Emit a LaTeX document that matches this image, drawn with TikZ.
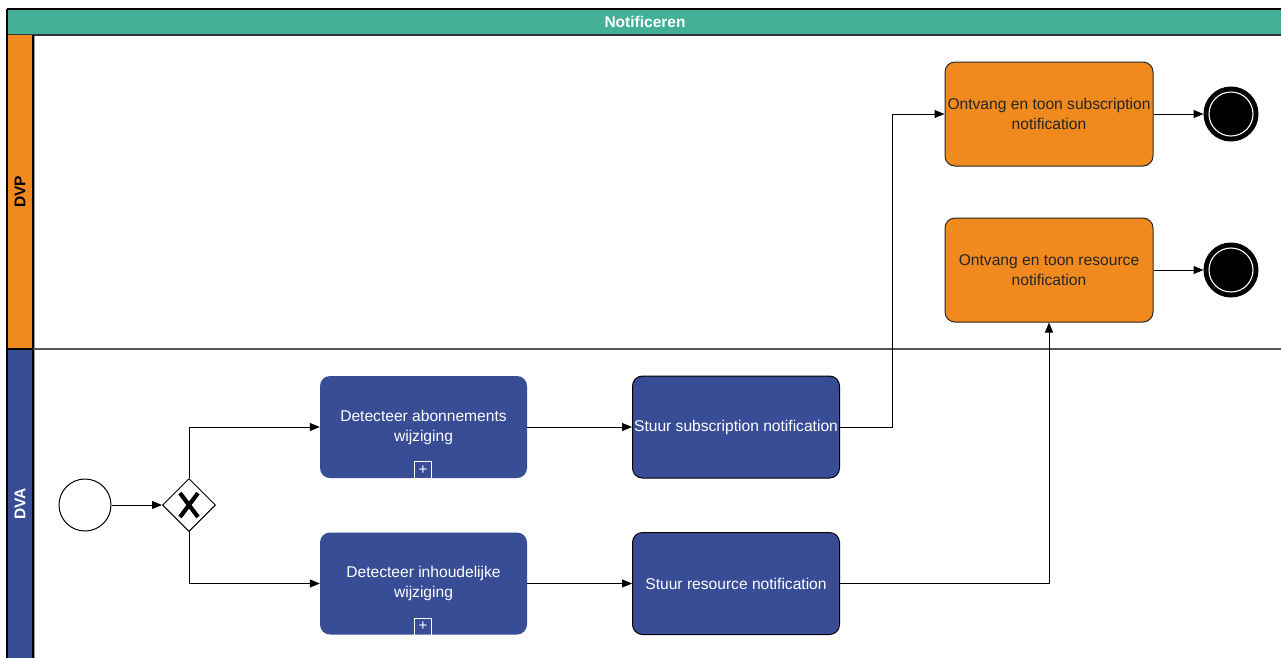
\documentclass[tikz,border=0pt]{standalone}
\usepackage{fontspec}
\setmainfont{Liberation Sans}
\usetikzlibrary{arrows.meta,shapes.geometric,calc}
\definecolor{poolgreen}{HTML}{44AF97}
\definecolor{dvporange}{HTML}{F0891E}
\definecolor{dvablue}{HTML}{384D96}
\definecolor{lanegray}{HTML}{555555}
\begin{document}
\begin{tikzpicture}[x=1pt,y=-1pt,
  txt/.style={font=\fontsize{15.6}{20}\selectfont, align=center},
  bluetask/.style={txt, rectangle, rounded corners=10pt, fill=dvablue, text=white, minimum width=207pt, minimum height=102pt, inner sep=1pt},
  bluetaskb/.style={bluetask, draw=black, line width=1pt},
  orangetask/.style={txt, rectangle, rounded corners=10pt, fill=dvporange, draw=black!85, line width=1pt, text=black!85, minimum width=208pt, minimum height=104pt, inner sep=1pt},
  plusmark/.style={rectangle, draw=white, line width=0.9pt, minimum width=17pt, minimum height=17pt, inner sep=0pt, text=white, font=\fontsize{15}{15}\selectfont},
  startev/.style={circle, draw=black, line width=1pt, fill=white, minimum size=52pt, inner sep=0pt},
  endev/.style={circle, fill=black, draw=black, line width=1pt, minimum size=54pt, inner sep=0pt},
  gw/.style={diamond, draw=black, line width=1pt, fill=white, minimum width=53pt, minimum height=53pt, inner sep=0pt},
  flow/.style={draw=black, line width=1pt, -{Triangle[length=10pt,width=8pt]}},
  lanelabel/.style={rotate=90, font=\fontsize{15.5}{15.5}\selectfont\bfseries}
]
\useasboundingbox (0,0) rectangle (1281,657);
\fill[white] (0,0) rectangle (1281,657);

% pool title
\fill[poolgreen] (7,9) rectangle (1290,35);
\draw[black, line width=1.2pt] (7,9) -- (1290,9);
\draw[black!80, line width=1.2pt] (7,35) -- (1290,35);
\draw[black, line width=1.2pt] (7,9) -- (7,35);
\node[font=\fontsize{15.5}{15.5}\selectfont\bfseries, text=white] (title) at (645,21.5) {Notificeren};

% lanes
\fill[dvporange] (7,35) rectangle (33,349);
\fill[dvablue] (7,349) rectangle (33,665);
\draw[black, line width=1.2pt] (7,35) -- (7,665);
\draw[black, line width=1.2pt] (33,35) -- (33,665);
\draw[black, line width=1.2pt] (7,349) -- (33,349);
\draw[black!40, line width=1pt] (34,36) -- (34,665);
\draw[lanegray, line width=1.5pt] (33,349) -- (1290,349);
\node[lanelabel, text=black] (dvp) at (20,192) {DVP};
\node[lanelabel, text=white] (dva) at (20,504) {DVA};

% events and gateway
\node[startev] (start) at (85,505) {};
\node[gw] (gate) at (189,505) {};
\draw[line width=4.2pt, line cap=butt] ($(gate.center)+(-9,-12)$) -- ($(gate.center)+(9,12)$);
\draw[line width=4.2pt, line cap=butt] ($(gate.center)+(9,-12)$) -- ($(gate.center)+(-9,12)$);

% tasks
\node[bluetask] (det1) at (423.5,427) {Detecteer abonnements\\wijziging};
\node[plusmark] (plus1) at (423,470) {+};
\node[bluetask] (det2) at (423.5,583.5) {Detecteer inhoudelijke\\wijziging};
\node[plusmark] (plus2) at (423,626.5) {+};
\node[bluetaskb] (st1) at (736,427) {Stuur subscription notification};
\node[bluetaskb] (st2) at (736,583.5) {Stuur resource notification};
\node[orangetask] (on1) at (1049,114) {Ontvang en toon subscription\\notification};
\node[orangetask] (on2) at (1049,270) {Ontvang en toon resource\\notification};

% end events
\node[endev] (end1) at (1231,114) {};
\draw[white, line width=1.1pt] (end1.center) circle (22);
\node[endev] (end2) at (1231,270) {};
\draw[white, line width=1.1pt] (end2.center) circle (22);

% flows
\draw[flow] (start.east) -- (gate.west);
\draw[flow] (gate.north) |- (det1.west);
\draw[flow] (gate.south) |- (det2.west);
\draw[flow] (det1.east) -- (st1.west);
\draw[flow] (det2.east) -- (st2.west);
\draw[flow] (st1.east) -- (892,427) |- (on1.west);
\draw[flow] (st2.east) -| (on2.south);
\draw[flow] (on1.east) -- (end1.west);
\draw[flow] (on2.east) -- (end2.west);
\end{tikzpicture}
\end{document}
